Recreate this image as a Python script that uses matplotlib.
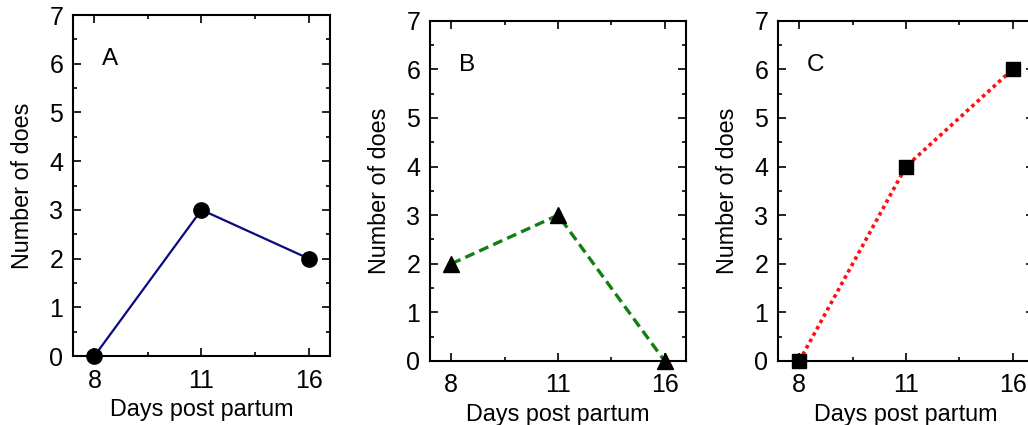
import matplotlib
matplotlib.use("Agg")
import matplotlib.pyplot as plt
from matplotlib.ticker import MultipleLocator, FixedLocator

plt.rcParams['font.family'] = ['Liberation Sans', 'DejaVu Sans']

days = ["8", "11", "16"]
panel_a = [0, 3, 2]
panel_b = [2, 3, 0]
panel_c = [0, 4, 6]
panel_labels = ["A", "B", "C"]
ylabel = "Number of does"
xlabel = "Days post partum"

W, H = 1028, 425
fig = plt.figure(figsize=(W / 100, H / 100), dpi=100)

boxes = [(73, 330, 15, 356), (430, 686, 20.7, 361), (778, 1034, 20.7, 361)]
series = [
    (panel_a, dict(color="#0a0a80", ls="-", lw=1.6, marker="o", ms=11)),
    (panel_b, dict(color="#118011", ls=(0, (3, 1.6)), lw=2.4, marker="^", ms=11)),
    (panel_c, dict(color="#ff1010", ls=(0, (1, 1)), lw=2.6, marker="s", ms=10)),
]

fs_tick = 18
fs_lab = 16.8
for (l, r, t, b), (vals, st), lab in zip(boxes, series, panel_labels):
    ax = fig.add_axes([l / W, (H - b) / H, (r - l) / W, (b - t) / H])
    x = list(range(len(days)))
    ax.plot(x, vals, color=st["color"], ls=st["ls"], lw=st["lw"], zorder=2)
    ax.plot(x, vals, ls="none", marker=st["marker"], ms=st["ms"],
            color="black", zorder=3, clip_on=False)
    ax.set_xlim(-0.2, 2.2)
    ax.set_ylim(0, 7)
    ax.set_xticks(x)
    ax.set_xticklabels(days)
    ax.xaxis.set_minor_locator(FixedLocator([0.5, 1.5]))
    ax.yaxis.set_major_locator(MultipleLocator(1))
    ax.yaxis.set_minor_locator(MultipleLocator(0.5))
    ax.tick_params(which="both", direction="in", top=True, right=True,
                   width=1.2, labelsize=fs_tick, color="black")
    ax.tick_params(which="major", length=5.5)
    ax.tick_params(which="minor", length=3)
    ax.tick_params(axis="y", pad=7)
    ax.tick_params(axis="x", pad=9)
    for sp in ax.spines.values():
        sp.set_linewidth(1.5)
    ax.set_ylabel(ylabel, fontsize=fs_lab, labelpad=11)
    ax.set_xlabel(xlabel, fontsize=fs_lab, labelpad=4)
    ax.text(0.113, 0.87, lab, transform=ax.transAxes, fontsize=17.5,
            ha="left", va="center")

fig.savefig("out.png", dpi=100)
